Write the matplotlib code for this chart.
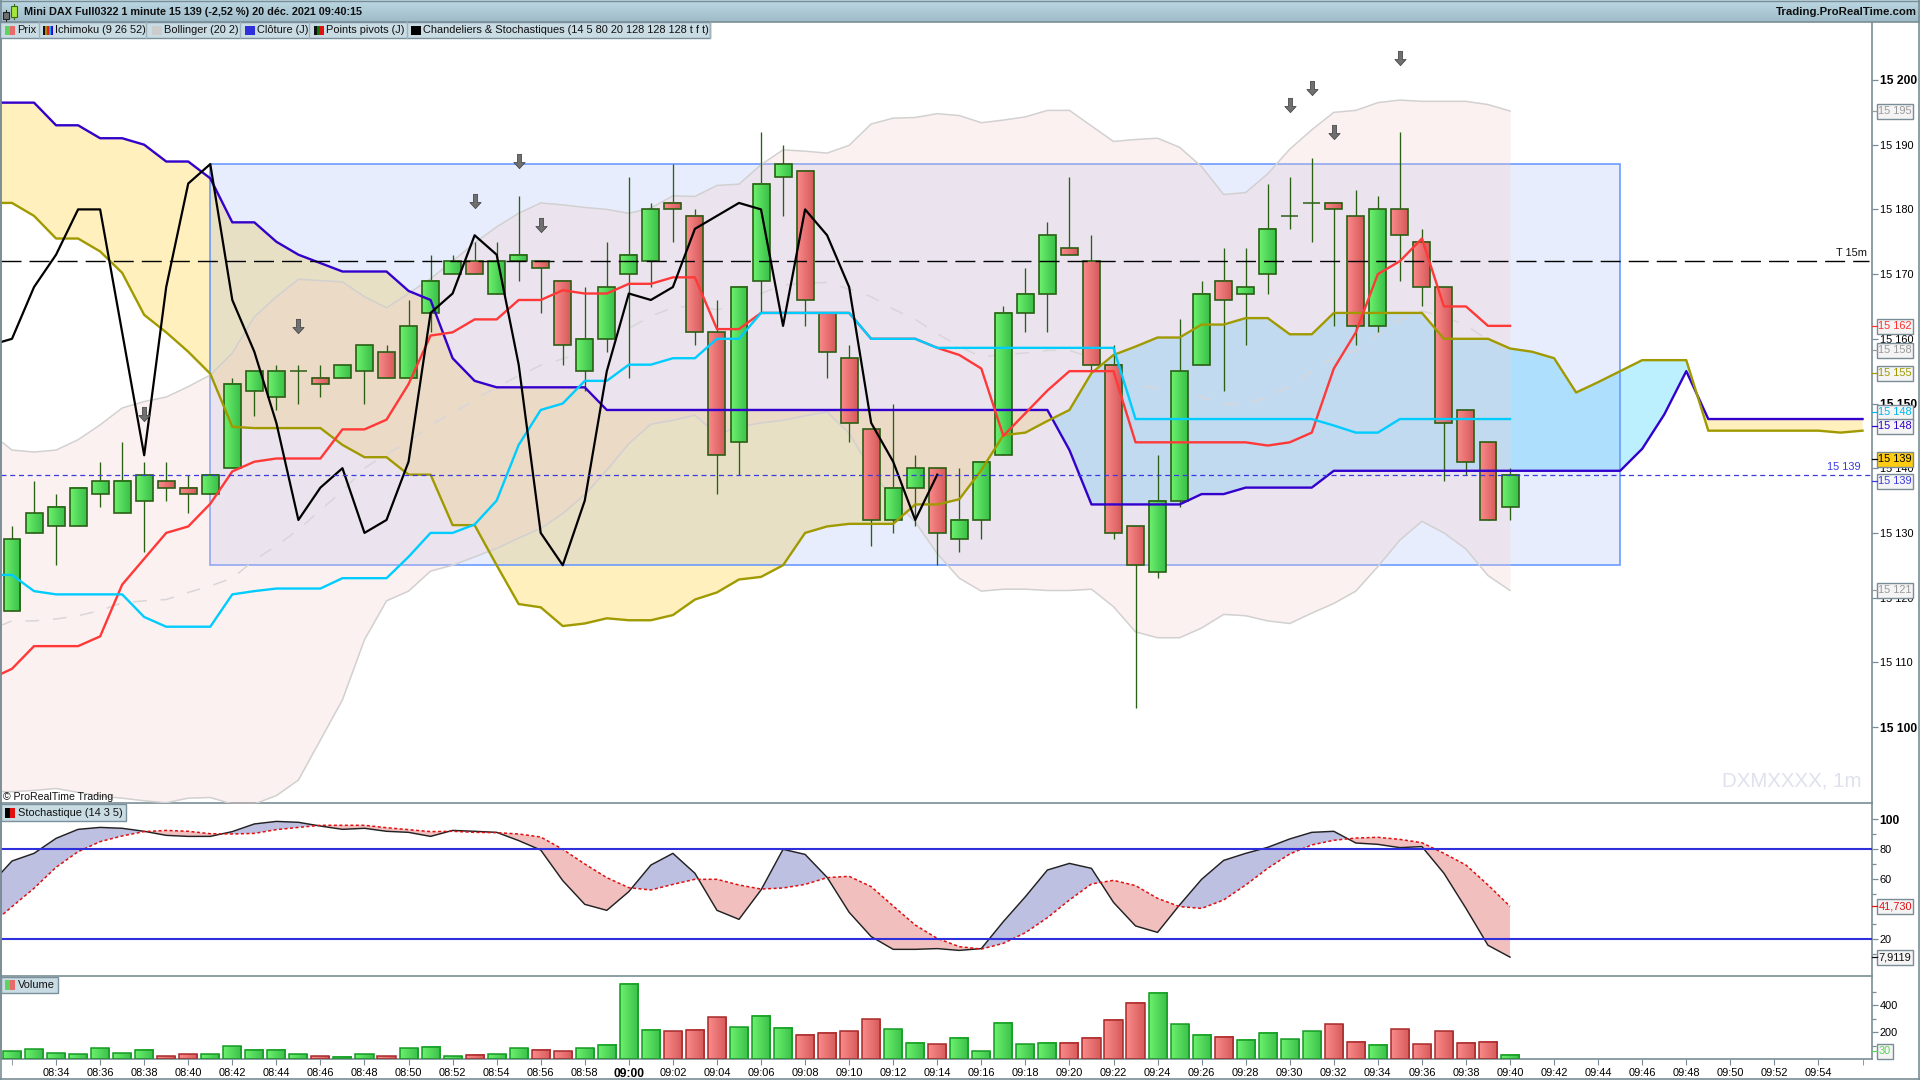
import numpy as np
import matplotlib
matplotlib.use("Agg")
import matplotlib.pyplot as plt
from matplotlib.patches import Rectangle
from matplotlib.path import Path
from matplotlib.colors import LinearSegmentedColormap

plt.rcParams['font.family'] = ['Liberation Sans', 'DejaVu Sans']

# ---------- data ----------
opens = [15118,15130,15131,15131,15136,15133,15135,15138,15137,15136,15140,15152,15151,15155,15154,15154,15155,15158,15154,15164,15170,15172,15167,15172,15172,15169,15155,15160,15170,15172,15181,15179,15161,15144,15169,15185,15186,15164,15157,15146,15132,15137,15140,15129,15132,15142,15164,15167,15174,15172,15156,15131,15124,15135,15156,15169,15167,15170,15179,15181,15181,15179,15162,15180,15175,15168,15149,15144,15134]
closes = [15129,15133,15134,15137,15138,15138,15139,15137,15136,15139,15153,15155,15155,15155,15153,15156,15159,15154,15162,15169,15172,15170,15172,15173,15171,15159,15160,15168,15173,15180,15180,15161,15142,15168,15184,15187,15166,15158,15147,15132,15137,15140,15130,15132,15141,15164,15167,15176,15173,15156,15130,15125,15135,15155,15167,15166,15168,15177,15179,15181,15180,15162,15180,15176,15168,15147,15141,15132,15139]
highs = [15131,15138,15136,15137,15141,15144,15141,15141,15139,15139,15154,15155,15156,15156,15156,15156,15159,15159,15166,15173,15173,15175,15175,15182,15172,15169,15168,15175,15185,15181,15187,15180,15166,15168,15192,15190,15186,15164,15159,15146,15150,15142,15140,15140,15141,15165,15171,15178,15185,15176,15159,15131,15142,15163,15169,15174,15174,15184,15185,15188,15181,15183,15182,15192,15177,15168,15149,15144,15140]
lows = [15118,15130,15125,15131,15134,15133,15127,15135,15133,15136,15140,15148,15149,15150,15151,15154,15150,15154,15154,15161,15170,15170,15167,15169,15164,15156,15152,15158,15154,15168,15175,15159,15136,15139,15164,15179,15162,15154,15144,15128,15130,15131,15125,15127,15129,15142,15161,15161,15173,15155,15129,15103,15123,15134,15156,15152,15159,15167,15177,15175,15162,15159,15161,15169,15165,15138,15139,15132,15132]
volumes = [59,74,44,37,81,44,67,22,37,37,96,67,67,37,22,15,37,22,81,89,22,30,37,81,67,59,81,104,556,215,207,215,311,237,319,230,178,193,207,296,222,119,111,156,59,267,111,119,119,156,289,415,489,259,178,163,141,193,148,207,259,126,104,222,111,207,119,126,30]

tenkan = [15107.4,15109,15112.5,15112.5,15112.5,15114,15122,15126,15130,15131,15134.5,15139.5,15141,15141.5,15141.5,15141.5,15146,15146,15147.5,15153,15160.5,15161,15163,15163,15166,15166,15167.5,15167,15167,15168.5,15168.5,15169.5,15169.5,15161.5,15161.5,15164,15164,15164,15164,15164,15160,15160,15160,15158.6,15157.5,15155.4,15145,15148.5,15152,15155,15155,15155,15144,15144,15144,15144,15144,15144,15143.5,15144,15145.5,15155.4,15161,15170,15172,15175.5,15165,15165,15162,15162]
kijun = [15123.5,15123.5,15121,15120.5,15120.5,15120.5,15120.5,15117,15115.5,15115.5,15115.5,15120.5,15121,15121.4,15121.4,15121.4,15123,15123,15123,15126.3,15130,15130,15131.3,15135,15143.6,15149,15150,15153.5,15153.5,15156,15156,15157,15157,15160,15160,15164,15164,15164,15164,15164,15160,15160,15160,15158.6,15158.6,15158.6,15158.6,15158.6,15158.6,15158.6,15158.6,15158.6,15147.6,15147.6,15147.6,15147.6,15147.6,15147.6,15147.6,15147.6,15147.6,15146.6,15145.5,15145.5,15147.6,15147.6,15147.6,15147.6,15147.6,15147.6]
senkou_a = [15181,15181,15179,15175.5,15175.5,15173.5,15170.2,15163.7,15161,15158,15154.6,15146.4,15146.2,15146.2,15146.2,15146.2,15143.6,15141.7,15141.7,15139,15139,15131.2,15131.2,15125,15119,15118.5,15115.6,15116,15116.8,15116.5,15116.5,15117.3,15119.7,15120.8,15122.8,15123.2,15125,15130,15131,15131.4,15131.4,15131.4,15134.4,15134.4,15135.2,15139.7,15145.1,15145.5,15147.3,15149,15154.7,15157.5,15158.8,15160.2,15160.2,15162.2,15162.2,15163.2,15163.2,15160.7,15160.7,15164,15164,15164,15164,15164,15160,15160,15160,15158.5,15158,15157,15151.7,15153.3,15155,15156.7,15156.7,15156.7,15145.8,15145.8,15145.8,15145.8,15145.8,15145.8,15145.5,15145.8]
senkou_b = [15196.5,15196.5,15196.5,15193,15193,15191,15191,15190,15187.4,15187.4,15184.8,15178,15178,15175,15173,15171.7,15170.4,15170.4,15170.4,15167.4,15166,15157,15153.5,15152.5,15152.5,15152.5,15152.5,15152.5,15149,15149,15149,15149,15149,15149,15149,15149,15149,15149,15149,15149,15149,15149,15149,15149,15149,15149,15149,15149,15149,15142.8,15134.4,15134.4,15134.4,15134.4,15134.4,15136,15136,15137,15137,15137,15137,15139.6,15139.6,15139.6,15139.6,15139.6,15139.6,15139.6,15139.6,15139.6,15139.6,15139.6,15139.6,15139.6,15139.6,15143,15148.3,15155,15147.6,15147.6,15147.6,15147.6,15147.6,15147.6,15147.6,15147.6]
chikou = [15159,15160,15168,15173,15180,15180,15161,15142,15168,15184,15187,15166,15158,15147,15132,15137,15140,15130,15132,15141,15164,15167,15176,15173,15156,15130,15125,15135,15155,15167,15166,15168,15177,15179,15181,15180,15162,15180,15176,15168,15147,15141,15132,15139]

boll_upper = [15145.5,15142.8,15142.5,15142.8,15144.4,15146.7,15149.3,15150.3,15151,15152.6,15154.4,15157.8,15163.4,15166.5,15169.2,15169,15168.8,15166.5,15164.8,15167,15169.3,15172,15174.8,15177.3,15179.4,15181,15180.7,15180.3,15180,15179.4,15180.2,15182.1,15182,15183.7,15183.9,15186.9,15189.2,15189,15188.7,15189.9,15193.2,15194.1,15194.2,15194.8,15194.5,15193.4,15193.8,15194.3,15195.3,15195.3,15192.9,15190.5,15190.8,15191,15189.6,15186.6,15182.3,15182.6,15185.5,15189.3,15192.3,15195,15195.3,15196.5,15196.9,15196.7,15196.7,15196.7,15196.2,15195.2]
boll_lower = [15090,15090,15090.2,15090.5,15089.9,15089.3,15089,15088.6,15088.3,15089,15089.1,15088.1,15088.1,15089.4,15091.8,15098,15104.2,15113.5,15119.5,15121,15124.1,15125,15126.3,15127.6,15129.2,15130.7,15133,15135.9,15139.7,15143.8,15146.8,15147.4,15148.2,15145.2,15146.4,15147,15147.4,15148.1,15148.7,15145.4,15139.7,15135.1,15131.7,15126.8,15123,15121,15121.3,15121.3,15121.1,15121.1,15121.3,15118.6,15114.7,15113.8,15113.8,15115.3,15117.4,15117.2,15116.4,15116,15117.6,15119.1,15121,15124.8,15128.9,15131.8,15130,15127.5,15123.4,15121.1]
boll_mid = [15115,15116.4,15116.4,15116.7,15117.2,15118,15119.2,15119.5,15119.7,15120.8,15121.8,15123,15125.8,15128,15130.5,15133.5,15136.5,15140,15142.2,15144,15146.7,15148.5,15150.6,15152.5,15154.3,15155.9,15156.9,15158.1,15159.9,15161.6,15163.5,15164.8,15165.1,15164.5,15165.2,15167,15168.3,15168.6,15168.7,15167.7,15166.5,15164.6,15163,15160.8,15158.8,15157.2,15157.6,15157.8,15158.2,15158.2,15157.1,15154.6,15152.8,15152.4,15151.7,15151,15149.9,15149.9,15151,15152.7,15155,15157.1,15158.2,15160.7,15162.9,15164.3,15163.4,15162.1,15159.8,15158.2]

stoch_k = [56,72,77.1,87.1,93.1,94.4,93.8,91.8,89.1,88.4,88.4,91.6,96.7,98.4,97.8,95.3,93.1,93.8,91.8,91.1,88.4,92.4,91.8,91.1,85.6,79.3,58.9,43.1,39.1,51.6,69.3,77.1,63.8,39.1,33.1,52.7,79.8,76.4,61.1,37.8,21.6,13.1,13.1,13.6,12.4,13.6,31.6,48.2,66,70.4,67.1,44.4,28.7,24.4,42.7,59.8,72.4,77.1,81.1,86.7,91.1,91.8,84,83.1,80.9,81.6,63.8,40.4,15.8,7.91]
stoch_d = [29,41.6,53.8,67.8,78.2,84.9,88.7,91.6,92.4,91.8,90.2,90,90.4,92.9,94.4,95.8,95.8,95.8,94.2,92.9,91.6,91.8,91.1,90.9,90,88,79.8,70,60.9,54.2,52.7,56.4,59.8,59.8,56,53.3,54,56.4,60.9,61.8,54.9,42,29.3,20.4,14.9,13.3,17.1,24.2,34.2,46,56.7,59.1,55.6,47.1,41.6,40.4,46,56,67.1,76.7,82.7,85.8,87.3,87.8,86.4,84.2,77.1,69.3,56,41.73]
stoch_levels = [80, 20]

arrow_idx = [6, 13, 21, 23, 24, 58, 59, 60, 63]
arrow_price = [15148.4, 15162, 15181.3, 15187.5, 15177.6, 15196.1, 15198.8, 15192, 15203.4]

zone_x = [9, 73]
zone_price = [15125, 15187]
t15m_level = 15172
last_level = 15139

time_ticks = [2, 4, 6, 8, 10, 12, 14, 16, 18, 20, 22, 24, 26, 28, 30, 32, 34, 36, 38, 40, 42, 44, 46, 48, 50, 52, 54, 56, 58, 60, 62, 64, 66, 68, 70, 72, 74, 76, 78, 80, 82]
time_labels = ['08:34','08:36','08:38','08:40','08:42','08:44','08:46','08:48','08:50','08:52','08:54','08:56','08:58','09:00','09:02','09:04','09:06','09:08','09:10','09:12','09:14','09:16','09:18','09:20','09:22','09:24','09:26','09:28','09:30','09:32','09:34','09:36','09:38','09:40','09:42','09:44','09:46','09:48','09:50','09:52','09:54']

price_ticks = [15100, 15110, 15120, 15130, 15140, 15150, 15160, 15170, 15180, 15190, 15200]
price_labels = ['15 100', '15 110', '15 120', '15 130', '15 140', '15 150', '15 160', '15 170', '15 180', '15 190', '15 200']
price_bold = ['15 100', '15 150', '15 200']

# (label, y pixel, text colour, face colour)
value_boxes = [('15 195', 111, '#9a9a9a', '#f4f4f4'), ('15 162', 326, '#ff3030', '#f4f4f4'),
               ('15 158', 350, '#9a9a9a', '#f4f4f4'), ('15 155', 373, '#a09a00', '#f4f4f4'),
               ('15 148', 412, '#00b8ee', '#f4f4f4'), ('15 148', 426, '#3300cc', '#f4f4f4'),
               ('15 139', 459, '#000000', '#ffcc11'), ('15 139', 481, '#3a3ae0', '#f4f4f4'),
               ('15 121', 590, '#9a9a9a', '#f4f4f4')]

# ---------- figure and panels ----------
W, H = 1920, 1080
fig = plt.figure(figsize=(W / 100, H / 100), dpi=100, facecolor='white')
AXC = '#7a8d96'
X0, X1 = 1.0, 1872.0
PX0, PXM = 12.0, 22.03


def panel(top, bottom):
    return fig.add_axes([X0 / W, 1 - bottom / H, (X1 - X0) / W, (bottom - top) / H])


ax = panel(22, 803)
ax_s = panel(803, 976)
ax_v = panel(976, 1059.3)
xlim = ((X0 - PX0) / PXM, (X1 - PX0) / PXM)

ylim_main = (15200 - (803 - 80) / 6.47, 15200 + (80 - 22) / 6.47)
ylim_sto = (100 - (976 - 819) / 1.5, 100 + (819 - 803) / 1.5)
ylim_vol = (0, (1059.3 - 976) / 0.135)

n = len(closes)
idx = np.arange(n)
x_line = np.arange(-1, n)
op, cl, hi, lo = map(np.array, (opens, closes, highs, lows))
up = cl >= op

# ---------- main panel ----------
xa = np.arange(-1, len(senkou_a) - 1)
sa, sb = np.array(senkou_a), np.array(senkou_b)
ax.fill_between(xa, sa, sb, where=sb >= sa, interpolate=True, color='#fff0bd', lw=0, zorder=1)
ax.fill_between(xa, sa, sb, where=sa >= sb, interpolate=True, color='#bcf0ff', lw=0, zorder=1)

ax.add_patch(Rectangle((zone_x[0], zone_price[0]), zone_x[1] - zone_x[0], zone_price[1] - zone_price[0],
                       fc=(0.36, 0.52, 0.95, 0.145), ec='#6b9bff', lw=1.2, zorder=2))

ax.fill_between(x_line, boll_lower, boll_upper, color=(247 / 255, 205 / 255, 205 / 255), alpha=0.28, lw=0, zorder=3)

ax.plot(x_line, boll_upper, color='#d2d0d0', lw=1.1, zorder=4)
ax.plot(x_line, boll_lower, color='#d2d0d0', lw=1.1, zorder=4)
ax.plot(x_line, boll_mid, color='#d8d6d8', lw=1.1, dashes=(9, 9), zorder=4)

cm_g = LinearSegmentedColormap.from_list('g', ['#6cf06c', '#3abf4a'])
cm_r = LinearSegmentedColormap.from_list('r', ['#fa8a8a', '#d65a5a'])
grad = np.linspace(0, 1, 32).reshape(1, -1)
BW = 0.385
WICK = '#2a5f14'
for i in idx:
    ax.plot([i, i], [lo[i], hi[i]], color=WICK, lw=0.95, zorder=5, solid_capstyle='butt')
    b0, b1 = min(op[i], cl[i]), max(op[i], cl[i])
    if b0 == b1:
        ax.plot([i - BW, i + BW], [b0, b0], color=WICK, lw=1.1, zorder=6, solid_capstyle='butt')
        continue
    ax.imshow(grad, extent=[i - BW, i + BW, b0, b1], cmap=cm_g if up[i] else cm_r, aspect='auto', zorder=6)
    ax.add_patch(Rectangle((i - BW, b0), 2 * BW, b1 - b0, fc='none', ec=WICK, lw=1.2, zorder=6.5))

ax.plot(xa, senkou_b, color='#3300cc', lw=1.7, zorder=7)
ax.plot(xa, senkou_a, color='#a09a00', lw=1.7, zorder=7)
ax.plot(x_line, tenkan, color='#ff3838', lw=1.7, zorder=7.1)
ax.plot(x_line, kijun, color='#00ccff', lw=1.7, zorder=7.2)
ax.plot(np.arange(-1, len(chikou) - 1), chikou, color='black', lw=1.6, zorder=7.3)

ax.plot([xlim[0], (1869 - PX0) / PXM], [t15m_level] * 2, color='black', lw=1.0, dashes=(14.4, 5.8), zorder=8)
ax.axhline(last_level, color='#3a3ae0', lw=0.9, dashes=(4, 3), zorder=8)

verts = [(-2, 7), (2, 7), (2, -1), (5.5, -1), (0, -7), (-5.5, -1), (-2, -1), (-2, 7)]
arrow = Path(np.array(verts, float), closed=True)
ax.scatter(arrow_idx, arrow_price, marker=arrow, s=105, facecolor='#707070', edgecolor='#4a4a4a', lw=0.6, zorder=9)

ax.set_ylim(*ylim_main)
ax.set_yticks(price_ticks)
ax.set_yticklabels(price_labels)

# ---------- stochastic ----------
xs = np.arange(-1, n)
k, d = np.array(stoch_k), np.array(stoch_d)
ax_s.fill_between(xs, k, d, where=k >= d, interpolate=True, color='#bec0e2', lw=0, zorder=1)
ax_s.fill_between(xs, k, d, where=k <= d, interpolate=True, color='#f2bfbf', lw=0, zorder=1)
ax_s.plot(xs, k, color='#222222', lw=1.05, zorder=3)
ax_s.plot(xs, d, color='#e01010', lw=1.1, dashes=(2, 1.6), zorder=3)
for lv in stoch_levels:
    ax_s.axhline(lv, color='#2f2fdc', lw=1.5, zorder=4)
ax_s.set_ylim(*ylim_sto)
ax_s.set_yticks([20, 60, 80, 100])
ax_s.set_yticklabels(['20', '60', '80', '100'])
ax_s.set_yticks([10, 30, 50, 70, 90], minor=True)

# ---------- volume ----------
for i in idx:
    cmap = cm_g if up[i] else cm_r
    ec = '#149a24' if up[i] else '#a82a2a'
    ax_v.imshow(grad, extent=[i - 0.41, i + 0.41, 0, volumes[i]], cmap=cmap, aspect='auto', zorder=2)
    ax_v.add_patch(Rectangle((i - 0.41, 0), 0.82, volumes[i], fc='none', ec=ec, lw=1.1, zorder=3))
ax_v.set_ylim(*ylim_vol)
ax_v.set_yticks([200, 400])
ax_v.set_yticklabels(['200', '400'])
ax_v.set_yticks([100, 300, 500], minor=True)
ax_v.set_xticks(time_ticks)
ax_v.set_xticklabels(time_labels)
ax_v.set_xticks([0, 84], minor=True)
ax_v.tick_params(axis='x', which='both', length=4, color=AXC, labelsize=7.9, pad=2.5)
for t, lab in zip(ax_v.get_xticklabels(), time_labels):
    if lab == '09:00':
        t.set_fontweight('bold')
        t.set_fontsize(8.7)

for a in (ax, ax_s, ax_v):
    a.set_xlim(*xlim)
    a.yaxis.tick_right()
    a.tick_params(axis='y', which='major', length=4, color=AXC, labelsize=7.9, pad=1.5, width=0.9)
    a.tick_params(axis='y', which='minor', length=3, color=AXC, width=0.9)
    for sp in a.spines.values():
        sp.set_color(AXC)
        sp.set_linewidth(1.2)
    a.spines['top'].set_visible(False)
    if a is not ax_v:
        a.set_xticks([])
    a.set_facecolor('none')

for a, bold_set in ((ax, price_bold), (ax_s, ['100'])):
    for tick in a.yaxis.get_major_ticks():
        if tick.label2.get_text() in bold_set:
            tick.label2.set_fontweight('bold')
            tick.label2.set_fontsize(8.7)

ax.set_ylim(*ylim_main)
ax_s.set_ylim(*ylim_sto)
ax_v.set_ylim(*ylim_vol)

# ---------- window chrome in pixel coordinates ----------
ov = fig.add_axes([0, 0, 1, 1], zorder=20)
ov.set_xlim(0, W)
ov.set_ylim(H, 0)
ov.axis('off')
ov.patch.set_alpha(0)

ov.imshow(np.linspace(0, 1, 32).reshape(-1, 1), extent=[0, W, 22, 0], aspect='auto',
          cmap=LinearSegmentedColormap.from_list('bar', ['#bcd8e4', '#9fbbc7']), zorder=1)
ov.set_xlim(0, W)
ov.set_ylim(H, 0)
ov.plot([0, W], [22, 22], color=AXC, lw=1.2, zorder=2)
ov.plot([0, W], [0.5, 0.5], color=AXC, lw=1.0, zorder=2)
ov.plot([W - 0.7, W - 0.7], [0, H], color=AXC, lw=1.2, zorder=2)
ov.plot([0, W], [1079, 1079], color=AXC, lw=1.2, zorder=2)
ov.plot([0.6, 0.6], [0, H], color=AXC, lw=1.2, zorder=2)

# title icon
ov.add_patch(Rectangle((3, 12), 6, 7, fc='#707070', ec='#222222', lw=0.8, zorder=3))
ov.plot([6, 6], [10, 21], color='#222222', lw=0.8, zorder=2.9)
ov.add_patch(Rectangle((11, 6), 6, 11, fc='#a4e63c', ec='#3a6a10', lw=0.8, zorder=3))
ov.plot([14, 14], [4, 19], color='#3a6a10', lw=0.8, zorder=2.9)

ov.text(23.5, 11.8, 'Mini DAX Full0322 1 minute 15 139 (-2,52 %) 20 déc. 2021 09:40:15',
        fontsize=7.82, fontweight='bold', va='center', ha='left', color='#101010', zorder=4)
ov.text(1917, 11.8, 'Trading.ProRealTime.com', fontsize=8.2, fontweight='bold', va='center', ha='right',
        color='#101010', zorder=4)

BOXC = '#c9dbe3'
legend_bar = [(0, 39, 'Prix', 17.5, ['#5fd25f', '#e86a6a']),
              (39, 146, 'Ichimoku (9 26 52)', 55, ['#111111', '#c08000', '#e02020', '#00b0f0', '#3300cc']),
              (146, 240, 'Bollinger (20 2)', 164, ['#cccccc']),
              (240, 309, 'Clôture (J)', 257, ['#2f2fdc']),
              (309, 407, 'Points pivots (J)', 326, ['#111111', '#0a7a0a', '#e01010']),
              (407, 710, 'Chandeliers & Stochastiques (14 5 80 20 128 128 128 t f t)', 423, ['#000000'])]


def swatch(x0, x1, y0, y1, colors):
    w = (x1 - x0) / len(colors)
    for j, c in enumerate(colors):
        ov.add_patch(Rectangle((x0 + j * w, y0), w, y1 - y0, fc=c, ec='none', zorder=5))


ov.add_patch(Rectangle((0, 22), 710, 16, fc=BOXC, ec='#7a919c', lw=1.0, zorder=3))
for (x0, x1, txt, tx, cols) in legend_bar:
    ov.plot([x1, x1], [22, 38], color='#9fb3bc', lw=1.0, zorder=4)
    swatch(tx - 12.5, tx - 2.5, 25.5, 35, cols)
    ov.text(tx, 30.3, txt, fontsize=7.9, va='center', ha='left', color='#101010', zorder=6)

ov.text(3, 797, '© ProRealTime Trading', fontsize=7.6, va='center', ha='left', color='#101010', zorder=6)

ov.add_patch(Rectangle((0.5, 804), 125, 17, fc=BOXC, ec='#7a919c', lw=1.0, zorder=3))
swatch(5, 15, 807.5, 818, ['#000000', '#e01010'])
ov.text(17.5, 812.8, 'Stochastique (14 3 5)', fontsize=7.9, va='center', ha='left', color='#101010', zorder=6)
ov.add_patch(Rectangle((0.5, 977), 57, 16, fc=BOXC, ec='#7a919c', lw=1.0, zorder=3))
swatch(5, 15, 980, 990, ['#5fd25f', '#e86a6a'])
ov.text(17.5, 985.3, 'Volume', fontsize=7.9, va='center', ha='left', color='#101010', zorder=6)

ov.text(1867, 253, 'T 15m', fontsize=7.9, va='center', ha='right', color='#101010', zorder=6)
ov.text(1861, 467, '15 139', fontsize=7.9, va='center', ha='right', color='#3a3ae0', zorder=6)
ov.text(1862, 781, 'DXMXXXX, 1m', fontsize=14.8, va='center', ha='right', color='#dfe2ec', zorder=6)


def value_box(label, y, tc, fc, x0=1877, x1=1913):
    ov.add_patch(Rectangle((x0, y - 7.5), x1 - x0, 15, fc=fc, ec=AXC, lw=1.0, zorder=7))
    ov.plot([1872, 1877], [y, y], color=tc, lw=0.9, zorder=7)
    ov.text(x0 + 1.5, y + 0.3, label, fontsize=7.9, va='center', ha='left', color=tc, zorder=8)


for lab, y, tc, fc in value_boxes:
    value_box(lab, y, tc, fc)
value_box('41,730', 906, '#e01010', '#f4f4f4')
value_box('7,9119', 957, '#111111', '#f4f4f4')
value_box('30', 1051, '#58d858', '#f4f4f4', x1=1893)

fig.savefig('out.png', dpi=100)
